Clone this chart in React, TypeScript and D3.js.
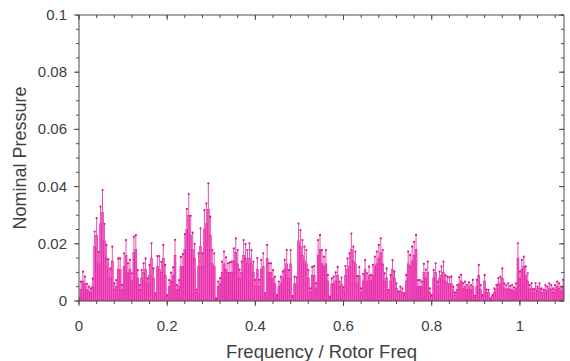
import * as React from 'react'
import * as d3 from 'd3'

const width = 570
const height = 361
const margin = { top: 15, right: 6, bottom: 60, left: 79 }
const barFill = '#f257c2'
const barEdge = '#dd0e93'
const axisColor = '#4d4d4d'
const textColor = '#404040'
const font = '"Liberation Sans", Arial, sans-serif'

// one spectrum bin, in rotor-frequency units
const binWidth = 1 / 225
// bar heights and upper error-bar ends, in units of 1e-3
const pressure = [
  0.6, 4, 7, 6, 4, 3.5, 3, 5, 19, 23, 13, 27, 31, 21, 15, 11, 8, 14, 4, 5,
  11, 11, 4, 12, 16, 10, 11, 7, 17, 18, 8, 4, 8, 10, 11, 6, 9, 15, 8, 2,
  12, 11, 10, 15, 9, 1.5, 5, 7, 9, 16, 4, 5, 12, 12, 18, 25, 30, 23, 18, 15,
  3, 12, 19, 12, 25, 27, 32, 23, 13, 12, 0.6, 5, 6, 10, 13, 11, 10, 10, 10, 14,
  17, 13, 8, 10, 16, 15, 13, 15, 13, 10, 5, 11, 5, 11, 12, 2, 15, 10, 10, 8,
  6, 1.5, 5, 6, 8, 11, 13, 8, 13, 1.2, 6, 6, 21, 19, 16, 14, 13, 8, 3, 9,
  9, 4.5, 16, 18, 13, 12, 13, 7, 1, 6, 6, 7, 9, 5, 6, 3.5, 9, 11, 12, 18,
  14, 13, 6, 9, 3, 7, 11, 7, 9, 7, 9, 12, 13, 15, 17, 13, 7, 8, 3, 7,
  11, 8, 4.5, 2.5, 3.5, 3, 2, 7, 13, 12, 14, 16, 18, 5, 5, 5, 10, 8, 10, 3,
  1.5, 8, 10, 5, 8, 9, 10, 7, 6, 6, 6, 3.5, 2, 4, 6, 7, 4.5, 5, 4, 5,
  4, 5, 1.2, 5, 9, 4, 1.5, 7, 3, 3, 0.6, 1.5, 3, 4, 6, 6, 8, 4.5, 4, 4.5,
  4, 4, 3.5, 4.5, 15, 8, 11, 12, 9, 7, 4, 4.5, 3, 4.5, 3.5, 4.5, 3, 3, 4, 3.5,
  4.5, 4, 3, 4, 5, 4.5, 3.5, 5,
]
const upper = [
  1, 6.8, 10.3, 8.5, 6, 5, 4.4, 7.8, 24.3, 29, 17.2, 33, 38.8, 27, 19.6, 14.6, 11.4, 19, 6.2, 7.3,
  14.9, 14.9, 5.6, 16.7, 21.3, 13.2, 14.4, 9.7, 22.5, 23, 10.8, 5.6, 10.8, 13.2, 14.9, 7.9, 12.6, 20.2, 11.4, 2.7,
  15.7, 15.7, 13.7, 19.6, 12.6, 2.1, 7.3, 9.9, 11.8, 21.4, 5.6, 7.3, 15.4, 16.4, 23.4, 32.2, 37.4, 29.8, 23.9, 20,
  4, 16.7, 25.4, 16.7, 31.8, 34.1, 41.1, 29.5, 17.8, 16.7, 0.9, 6.8, 8, 13.8, 17.3, 15.3, 13.2, 13.5, 13.8, 18.4,
  21.9, 17.8, 11, 13.8, 21.3, 19.9, 17.8, 20.2, 17.8, 13.8, 7.4, 15, 7.4, 14.4, 16.7, 2.7, 19.6, 13.2, 13.2, 10.8,
  8.5, 2.1, 6.8, 8.5, 10.3, 14.4, 17.8, 10.8, 17.8, 1.8, 8.5, 8.3, 27.1, 24.8, 21.3, 19, 17.8, 10.8, 4.4, 11.9,
  12.2, 6.2, 21.3, 23.1, 17.8, 15.5, 17.8, 9.1, 1.5, 7.9, 8.5, 10, 11.9, 6.8, 8.2, 4.8, 12.2, 14.9, 16.7, 23.6,
  19, 17.3, 8.7, 11.9, 4.4, 9.4, 14.3, 9.7, 12, 9.1, 12.6, 15.5, 17.3, 19.6, 21.9, 17.8, 9.7, 11.4, 3.8, 9.1,
  14.3, 10.3, 6.2, 3.3, 5, 4.4, 2.7, 9.1, 17.3, 16.1, 19, 20.7, 23.1, 7.3, 7.3, 6.8, 13, 11, 13.8, 4.4,
  2.1, 10.8, 13.2, 6.8, 10.3, 12.1, 13.8, 9, 8.5, 8.3, 8.5, 5, 2.9, 5.6, 8.3, 9.1, 6.2, 6.8, 5.6, 6.5,
  5.6, 7.4, 1.8, 7.4, 12.6, 5.6, 2.1, 9.1, 4, 3.9, 0.9, 2.1, 4.4, 5.6, 8, 8.5, 11.4, 6.2, 5.6, 6.2,
  5.3, 5.6, 4.8, 6.2, 20.2, 10.3, 14.4, 15.5, 12.1, 9.7, 5.6, 6.2, 4.1, 6.2, 5, 6.2, 4.4, 3.9, 5.6, 5,
  6.2, 5.6, 4.4, 5.6, 6.8, 6.2, 5, 7.4,
]
const xTicks = [0, 0.2, 0.4, 0.6, 0.8, 1]
const yTicks = [0, 0.02, 0.04, 0.06, 0.08, 0.1]
const xMinor = d3.range(0, 1.1, 0.04)
const yMinor = d3.range(0, 0.1001, 0.005)

const App = () => {
  const x = d3
    .scaleLinear()
    .domain([0, 1.1])
    .range([margin.left, width - margin.right])
  const y = d3
    .scaleLinear()
    .domain([0, 0.1])
    .range([height - margin.bottom, margin.top])

  const bars = pressure.map((p, i) => ({
    f: i * binWidth,
    value: p / 1000,
    top: upper[i] / 1000,
  }))
  const bw = x(binWidth) - x(0)
  const x0 = x(0)
  const x1 = x(1.1)
  const y0 = y(0)
  const y1 = y(0.1)
  const fmt = d3.format('~g')

  return (
    <svg
      width={width}
      height={height}
      style={{ position: 'absolute', left: 0, top: 0 }}
      fontFamily={font}
    >
      <defs>
        <clipPath id="plot">
          <rect x={x0} y={y1 - 5} width={x1 - x0} height={y0 - y1 + 5} />
        </clipPath>
      </defs>
      <g clipPath="url(#plot)">
        {bars.map((d, i) => (
          <rect
            key={'b' + i}
            x={x(d.f) - bw / 2}
            y={y(d.value)}
            width={bw}
            height={y0 - y(d.value)}
            fill={barFill}
            stroke={barEdge}
            strokeWidth={0.5}
          />
        ))}
        {bars.map((d, i) => (
          <g key={'e' + i}>
            <line
              x1={x(d.f)}
              x2={x(d.f)}
              y1={y(d.value)}
              y2={y(d.top)}
              stroke={barEdge}
              strokeWidth={0.9}
              opacity={0.8}
            />
            <circle cx={x(d.f)} cy={y(d.top)} r={1.1} fill={barEdge} />
          </g>
        ))}
      </g>

      {/* frame */}
      <g stroke={axisColor} strokeWidth={1} fill="none">
        <line x1={x0} x2={x1} y1={y0} y2={y0} />
        <line x1={x0} x2={x1} y1={y1} y2={y1} />
        <line x1={x0} x2={x0} y1={y0} y2={y1} />
        <line x1={x1} x2={x1} y1={y0} y2={y1} />
        {xMinor.map(t => (
          <g key={'xm' + t}>
            <line x1={x(t)} x2={x(t)} y1={y0} y2={y0 + 3} />
            <line x1={x(t)} x2={x(t)} y1={y1} y2={y1 + 3} />
          </g>
        ))}
        {xTicks.map(t => (
          <g key={'xt' + t}>
            <line x1={x(t)} x2={x(t)} y1={y0} y2={y0 + 5} />
            <line x1={x(t)} x2={x(t)} y1={y1} y2={y1 + 5} />
          </g>
        ))}
        {yMinor.map(t => (
          <g key={'ym' + t}>
            <line x1={x0 - 3} x2={x0} y1={y(t)} y2={y(t)} />
            <line x1={x1 - 3} x2={x1} y1={y(t)} y2={y(t)} />
          </g>
        ))}
        {yTicks.map(t => (
          <g key={'yt' + t}>
            <line x1={x0 - 5} x2={x0} y1={y(t)} y2={y(t)} />
            <line x1={x1 - 5} x2={x1} y1={y(t)} y2={y(t)} />
          </g>
        ))}
      </g>

      <g fontSize={15} fill={textColor}>
        {xTicks.map(t => (
          <text key={'xl' + t} x={x(t)} y={y0 + 30} textAnchor="middle">
            {fmt(t)}
          </text>
        ))}
        {yTicks.map(t => (
          <text key={'yl' + t} x={x0 - 12} y={y(t) + 5} textAnchor="end">
            {fmt(t)}
          </text>
        ))}
      </g>

      <text
        x={(x0 + x1) / 2}
        y={height - 3}
        textAnchor="middle"
        fontSize={18.5}
        fill={textColor}
      >
        Frequency / Rotor Freq
      </text>
      <text
        transform={`translate(26, ${(y0 + y1) / 2}) rotate(-90)`}
        textAnchor="middle"
        fontSize={18}
        fill={textColor}
      >
        Nominal Pressure
      </text>
    </svg>
  )
}

export default App
